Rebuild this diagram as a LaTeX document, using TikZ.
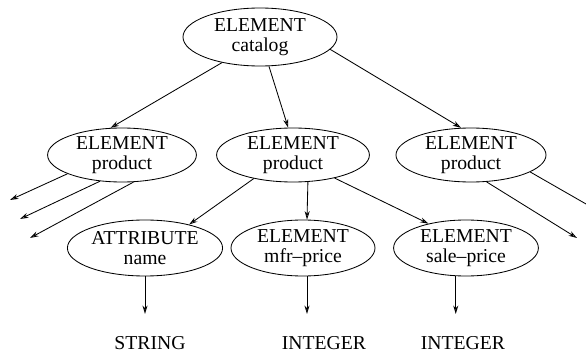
\documentclass[tikz,border=0pt]{standalone}
\usepackage{fontspec}
\setmainfont{Liberation Serif}
\usetikzlibrary{shapes.geometric,arrows.meta}

\begin{document}
\begin{tikzpicture}[
        >={Stealth[open,length=6pt,width=3.6pt]},
        line width=0.6pt,
        elem/.style={
            ellipse,
            draw,
            inner sep=0pt,
            align=center,
            minimum width=3.75cm,
            minimum height=1.35cm,
            font=\fontsize{14}{13.8}\selectfont,
        },
        leaf/.style={
            inner sep=0pt,
            font=\fontsize{14}{13.8}\selectfont,
        },
    ]
    \useasboundingbox (0,0) rectangle (14.65,8.825);

    \node (cat) at (6.5,7.9) [elem, minimum width=3.85cm, minimum height=1.45cm] {ELEMENT\\catalog};

    \node (P1) at (3.05,4.95) [elem, minimum width=3.72cm] {ELEMENT\\product};
    \node (P2) at (7.325,4.95) [elem, minimum width=3.82cm] {ELEMENT\\product};
    \node (P3) at (11.775,4.95) [elem] {ELEMENT\\product};

    \node (A) at (3.625,2.625) [elem, minimum width=3.88cm, minimum height=1.4cm] {ATTRIBUTE\\name};
    \node (M) at (7.575,2.625) [elem, minimum width=3.6cm, minimum height=1.4cm] {ELEMENT\\mfr--price};
    \node (SP) at (11.65,2.625) [elem, minimum width=3.62cm, minimum height=1.4cm] {ELEMENT\\sale--price};

    \node (S) at (3.75,0.25) [leaf] {STRING};
    \node (I1) at (8.1,0.25) [leaf] {INTEGER};
    \node (I2) at (11.575,0.25) [leaf] {INTEGER};

    % loose ends
    \coordinate (l1) at (0.25,3.825);
    \coordinate (l2) at (0.5,3.35);
    \coordinate (l3) at (0.75,2.875);
    \coordinate (r1) at (15.0,3.525);
    \coordinate (r2) at (14.425,2.875);

    \draw [->] (cat.214) -- (P1.113);
    \draw [->] (cat.287) -- (P2.100);
    \draw [->] (cat.350) -- (P3.110);

    \draw [->] (P1.199) -- (l1);
    \draw [->] (P1.230) -- (l2);
    \draw [->] (P1.293) -- (l3);

    \draw [->] (P2.211) -- (A.28);
    \draw [->] (P2.299) -- (M.82);
    \draw [->] (P2.331) -- (SP.147);

    \draw [->] (P3.344) -- (r1);
    \draw [->] (P3.300) -- (r2);

    \draw [->, shorten >=0.55cm] (A.south) -- (A.south |- S.north);
    \draw [->, shorten >=0.55cm] (M.278) -- (M.278 |- I1.north);
    \draw [->, shorten >=0.55cm] (SP.250) -- (SP.250 |- I2.north);

\end{tikzpicture}
\end{document}
